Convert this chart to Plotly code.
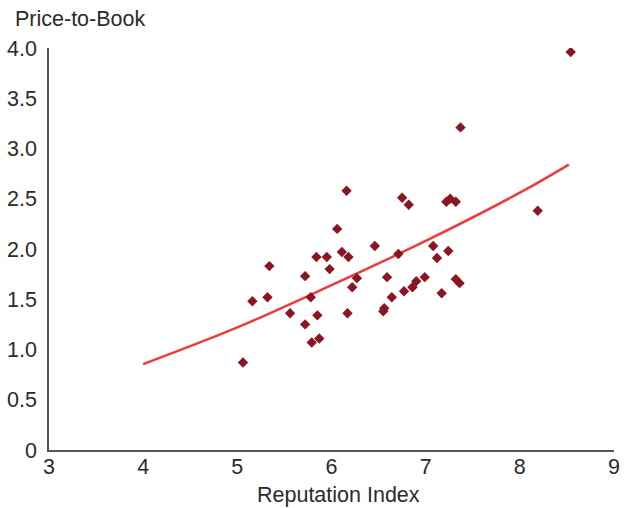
import plotly.graph_objects as go

reputation = [6.16, 6.75, 6.82, 7.22, 7.26, 7.32, 8.19, 6.06, 6.46, 7.08,
              7.24, 7.12, 6.71, 6.11, 6.18, 5.84, 5.95, 5.34, 5.98, 5.72,
              6.27, 6.59, 6.99, 6.90, 7.32, 7.36, 6.22, 6.86, 6.77, 7.17,
              5.16, 5.32, 5.78, 6.64, 5.56, 5.85, 6.17, 6.56, 6.55, 5.72,
              5.87, 5.79, 5.06, 8.54, 7.37]
price_to_book = [2.58, 2.51, 2.44, 2.47, 2.50, 2.47, 2.38, 2.20, 2.03, 2.03,
                 1.98, 1.91, 1.95, 1.97, 1.92, 1.92, 1.92, 1.83, 1.80, 1.73,
                 1.71, 1.72, 1.72, 1.68, 1.70, 1.66, 1.62, 1.62, 1.58, 1.56,
                 1.48, 1.52, 1.52, 1.52, 1.36, 1.34, 1.36, 1.41, 1.38, 1.25,
                 1.11, 1.07, 0.87, 3.96, 3.21]
# trendline
trend_x = [4.0, 5.0, 6.0, 7.0, 8.0, 8.52]
trend_y = [0.855, 1.22, 1.64, 2.08, 2.56, 2.84]
x_ticks = [3, 4, 5, 6, 7, 8, 9]
y_ticks = [0, 0.5, 1.0, 1.5, 2.0, 2.5, 3.0, 3.5, 4.0]
y_tick_labels = ["0", "0.5", "1.0", "1.5", "2.0", "2.5", "3.0", "3.5", "4.0"]

font = "Liberation Sans, Arial, Helvetica, sans-serif"
fs = 21.5
tc = "#2b2b2b"

W, H = 629, 508
L, R, T, B = 49, 15, 48, 58
pw, ph = W - L - R, H - T - B

fig = go.Figure()
fig.add_trace(go.Scatter(x=trend_x, y=trend_y, mode="lines", line_shape="spline",
                         line=dict(color="#EE3B3B", width=2.5),
                         hoverinfo="skip", showlegend=False))
fig.add_trace(go.Scatter(x=reputation, y=price_to_book, mode="markers",
                         marker=dict(symbol="diamond", size=8, color="#8A1624",
                                     line=dict(width=0)),
                         showlegend=False))

fig.update_layout(
    width=W, height=H,
    margin=dict(l=L, r=R, t=T, b=B),
    paper_bgcolor="white", plot_bgcolor="white",
    font=dict(family=font, size=fs, color=tc),
    xaxis=dict(range=[3, 9], tickvals=x_ticks, showgrid=False, zeroline=False,
               showline=True, linecolor="#555555", linewidth=1.5, ticks="",
               ticklen=0, ticklabelstandoff=-4, automargin=False),
    yaxis=dict(range=[0, 4], tickvals=y_ticks, ticktext=y_tick_labels,
               showgrid=False, zeroline=False, automargin=False,
               showline=True, linecolor="#555555", linewidth=1.5, ticks="",
               ticklen=0, ticklabelstandoff=6),
    annotations=[
        dict(text="Price-to-Book", xref="paper", yref="paper",
             x=-(L - 13) / pw, y=1 + (T - 19) / ph, xanchor="left", yanchor="middle",
             showarrow=False, font=dict(size=fs, family=font, color=tc)),
        dict(text="Reputation Index", xref="paper", yref="paper",
             x=(338.5 - L) / pw, y=-(495 - (H - B)) / ph, xanchor="center", yanchor="middle",
             showarrow=False, font=dict(size=fs, family=font, color=tc)),
    ],
)

fig.write_html("out.html", config={"displayModeBar": False},
               post_script="document.body.style.margin='0px';")
